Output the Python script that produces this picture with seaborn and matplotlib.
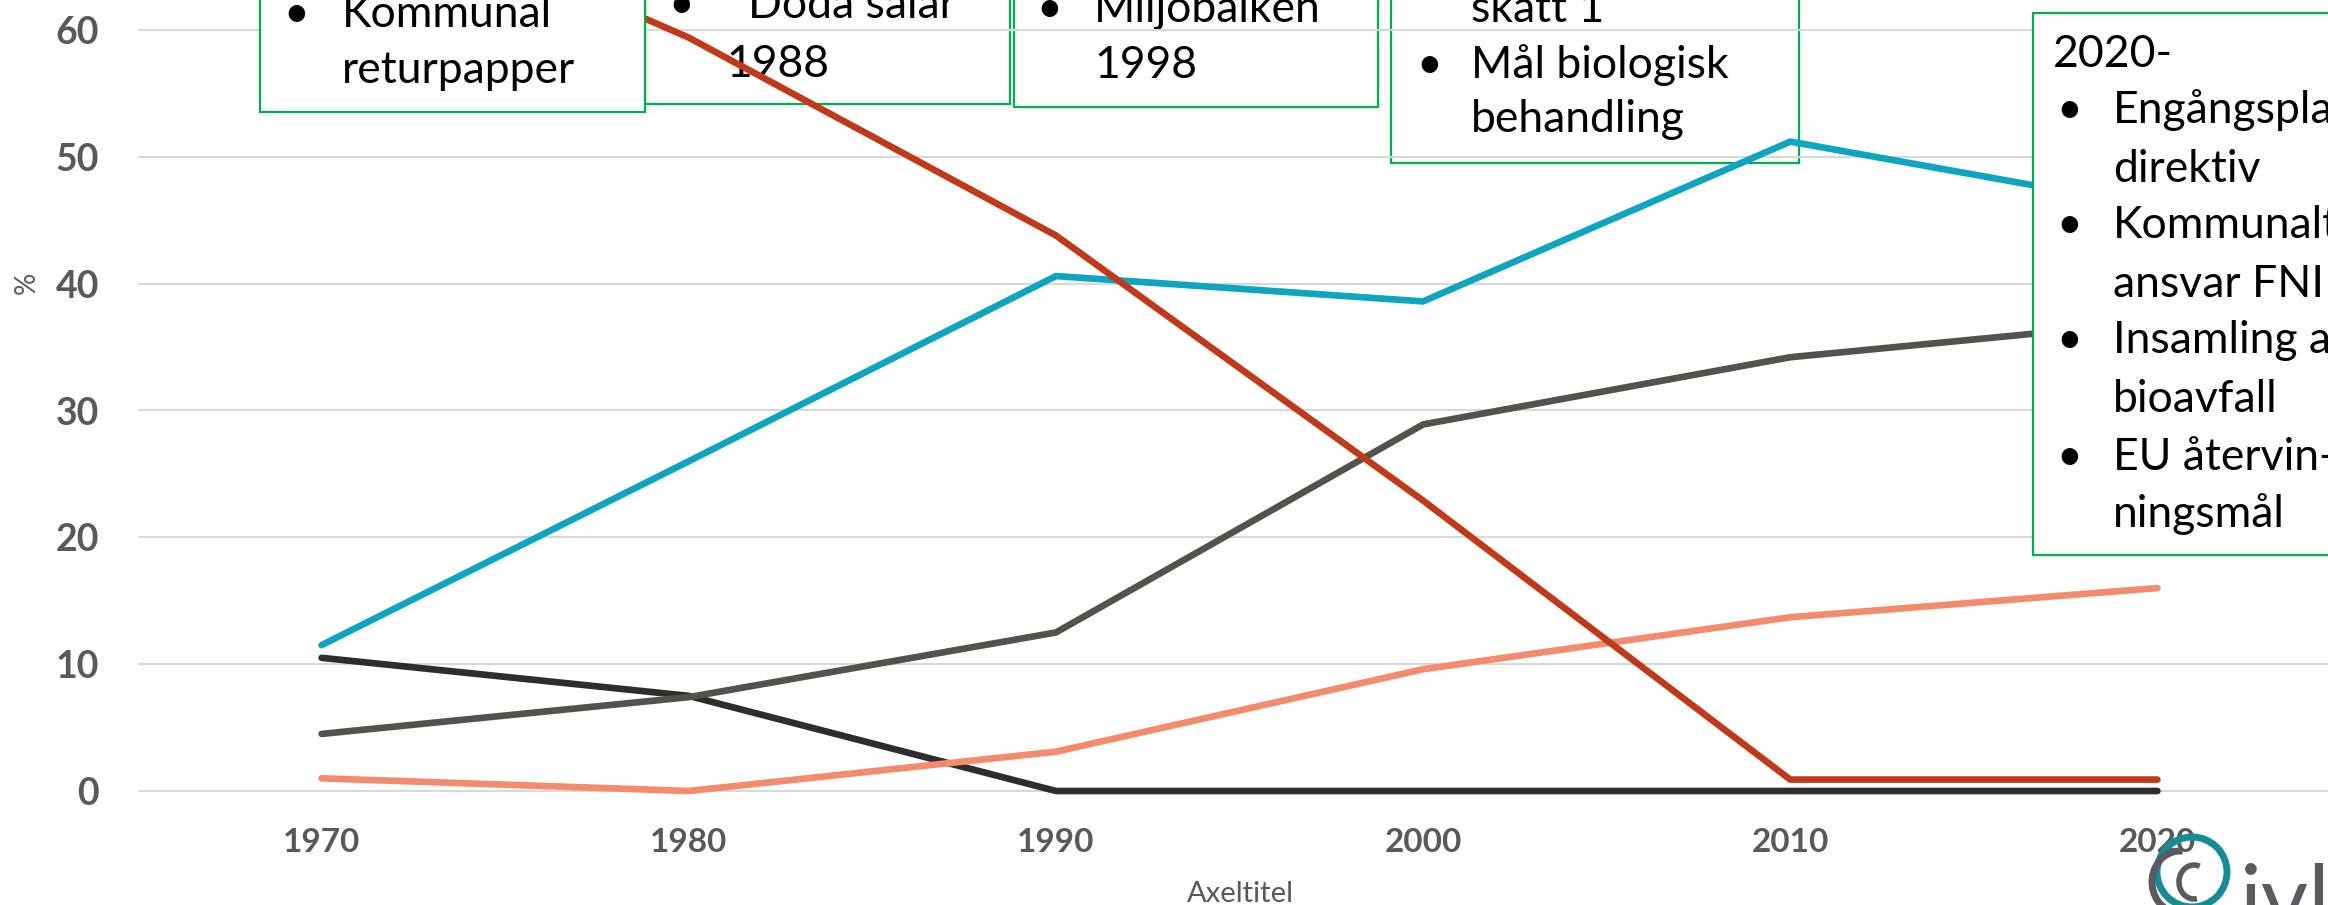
import numpy as np
import pandas as pd
import seaborn as sns
import matplotlib.pyplot as plt
from matplotlib.patches import Rectangle, Circle, Arc

# data (percent of household waste by treatment)
years = [1970, 1980, 1990, 2000, 2010, 2020]
energi = [11.5, 26.0, 40.6, 38.6, 51.2, 46.0]
deponi = [72.0, 59.4, 43.8, 22.9, 0.9, 0.9]
material = [4.5, 7.4, 12.5, 28.9, 34.2, 37.0]
biologisk = [1.0, 0.0, 3.1, 9.6, 13.7, 16.0]
ovrigt = [10.5, 7.5, 0.0, 0.0, 0.0, 0.0]

series = {
    "Övrigt": ovrigt,
    "Materialåtervinning": material,
    "Biologisk behandling": biologisk,
    "Energiåtervinning": energi,
    "Deponering": deponi,
}
colors = {
    "Övrigt": "#2D2D2D",
    "Materialåtervinning": "#52524E",
    "Biologisk behandling": "#F38B6D",
    "Energiåtervinning": "#0FA4C0",
    "Deponering": "#C0391B",
}

yticks = [0, 10, 20, 30, 40, 50, 60]

rows = []
for name, vals in series.items():
    for yr, v in zip(years, vals):
        rows.append({"year": yr, "value": v, "serie": name})
df = pd.DataFrame(rows)

sns.set_style("white")
plt.rcParams['font.family'] = ['Lato', 'DejaVu Sans']

W, H = 2328, 905
fig = plt.figure(figsize=(W / 100, H / 100), dpi=100)

green = "#00B050"
fs = 32

# underlay (pixel coords): boxes that sit behind the chart
under = fig.add_axes([0, 0, 1, 1], zorder=0)
under.set_xlim(0, W)
under.set_ylim(H, 0)
under.axis("off")

# plot area in pixels: left 138, right 2341, value 0 at y=791, 60 at y=30
px_per_unit = (791 - 30) / 60.0
ybot = -0.8
ytop = 60 + 30 / px_per_unit
bottom_px = 791 + (-ybot) * px_per_unit
ax = fig.add_axes([138 / W, 1 - bottom_px / H, (2341 - 138) / W, bottom_px / H], zorder=1)
ax.patch.set_alpha(0)

for name in series:
    sns.lineplot(data=df[df["serie"] == name], x="year", y="value",
                 color=colors[name], linewidth=4.8, legend=False, ax=ax,
                 solid_capstyle="round", solid_joinstyle="round")

ax.set_xlim(1965, 2025)
ax.set_ylim(ybot, ytop)
ax.set_xticks(years)
ax.set_yticks(yticks)
ax.yaxis.grid(True, color="#D9D9D9", linewidth=1.5)
ax.xaxis.grid(False)
ax.set_axisbelow(True)
for s in ax.spines.values():
    s.set_visible(False)
ax.tick_params(axis="x", length=0, pad=19, labelsize=24, labelcolor="#595959")
ax.tick_params(axis="y", length=0, pad=28, labelsize=27, labelcolor="#595959")
for lab in ax.get_xticklabels() + ax.get_yticklabels():
    lab.set_fontweight("bold")
ax.set_xlabel("")
ax.set_ylabel("")

# overlay in pixel coordinates for boxes on top, labels and logo
ov = fig.add_axes([0, 0, 1, 1], zorder=5)
ov.set_xlim(0, W)
ov.set_ylim(H, 0)
ov.axis("off")
ov.patch.set_alpha(0)

ov.text(1240, 902, "Axeltitel", fontsize=21, color="#595959", ha="center", va="baseline")
ov.text(27, 283, "%", fontsize=20, color="#595959", rotation=90, ha="center", va="center")

def box(target, l, r, t, b):
    target.add_patch(Rectangle((l, t), r - l, b - t, facecolor="white",
                               edgecolor=green, linewidth=1.6, zorder=2))

def put(target, x, y, s):
    target.text(x, y, s, fontsize=fs, color="black", ha="left", va="baseline", zorder=3)

# box 1 (on top of chart)
box(ov, 260, 645, -60, 112)
put(ov, 283, 27, "•")
put(ov, 342, 27, "Kommunal")
put(ov, 342, 83, "returpapper")

# box 2 (behind chart)
box(under, 645, 1010, -60, 104)
put(under, 668, 18, "•")
put(under, 748, 18, "Döda sälar")
put(under, 726, 77, "1988")

# box 3 (behind chart)
box(under, 1014, 1378, -60, 107)
put(under, 1036, 22, "•")
put(under, 1094, 22, "Miljöbalken")
put(under, 1094, 78, "1998")

# box 4 (behind chart)
box(under, 1391, 1799, -60, 163)
put(under, 1471, 22, "skatt 1")
put(under, 1416, 78, "•")
put(under, 1471, 78, "Mål biologisk")
put(under, 1471, 132, "behandling")

# box 5 (on top of chart)
box(ov, 2033, 2420, 13, 555)
put(ov, 2053, 67, "2020-")
lines5 = [("•", "Engångsplast-"), ("", "direktiv"), ("•", "Kommunalt"),
          ("", "ansvar FNI"), ("•", "Insamling av"), ("", "bioavfall"),
          ("•", "EU återvin-"), ("", "ningsmål")]
base = [123, 182, 238, 297, 353, 412, 470, 527]
for (bul, txt), yb in zip(lines5, base):
    if bul:
        put(ov, 2056, yb, bul)
    put(ov, 2113, yb, txt)

# ivl logo
ov.add_patch(Circle((2192, 872), 35, fill=False, edgecolor="#168C94", linewidth=5, zorder=4))
ov.add_patch(Arc((2180, 882), 56, 62, theta1=95, theta2=275, edgecolor="#5B5B5F", linewidth=5, zorder=4))
ov.add_patch(Arc((2194, 882), 30, 34, theta1=80, theta2=290, edgecolor="#5B5B5F", linewidth=4, zorder=4))
ov.text(2240, 930, "ivl", fontsize=66, color="#5B5B5F",
        ha="left", va="baseline", zorder=4)

fig.savefig("out.png", dpi=100)
